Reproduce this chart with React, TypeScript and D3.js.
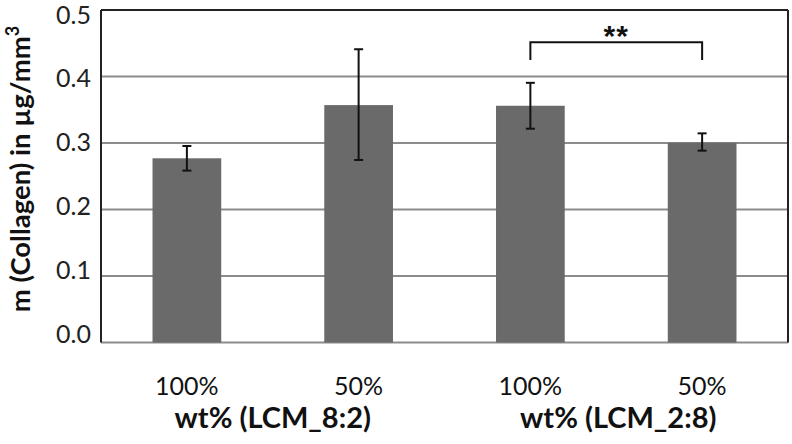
import React from "react";
import * as d3 from "d3";

const categories = ["A", "B", "C", "D"];
const barLabels = ["100%", "50%", "100%", "50%"];
const values = [0.277, 0.357, 0.356, 0.3005];
const errLow = [0.2585, 0.2745, 0.3215, 0.2885];
const errHigh = [0.2955, 0.441, 0.3905, 0.3145];
const groupLabels = ["wt% (LCM_8:2)", "wt% (LCM_2:8)"];
const groupMembers = [[0, 1], [2, 3]];
const yTicks = [0, 0.1, 0.2, 0.3, 0.4, 0.5];
const sigPair = [2, 3];
const sigLevel = 0.4515;
const sigEnd = 0.425;
const sigLabel = "**";

const W = 792, H = 444;
const left = 101, right = 788, top = 10, bottom = 342.5;
const FONT = "Lato, 'Open Sans', sans-serif";

export default function App() {
  const x = d3.scaleBand<string>().domain(categories).range([left, right]).paddingInner(0.6).paddingOuter(0.3);
  const y = d3.scaleLinear().domain([0, 0.5]).range([bottom, top]);
  const yLab = d3.scaleLinear().domain([0, 0.5]).range([334, 14.5]);
  const bw = x.bandwidth();
  const cx = (i: number) => (x(categories[i]) as number) + bw / 2;
  const capW = 9;
  const bx1 = cx(sigPair[0]), bx2 = cx(sigPair[1]);
  return (
    <svg width={W} height={H} style={{ position: "absolute", left: 0, top: 0, background: "#fff" }}>
      <rect x={0} y={0} width={W} height={H} fill="#fff" />
      {yTicks.slice(1, -1).map((t) => (
        <line key={t} x1={left} x2={right} y1={y(t)} y2={y(t)} stroke="#8c8c8c" strokeWidth={2} />
      ))}
      <line x1={left} x2={right} y1={bottom} y2={bottom} stroke="#8c8c8c" strokeWidth={2} />
      <line x1={left} x2={right} y1={top} y2={top} stroke="#222" strokeWidth={2} />
      <line x1={left} x2={left} y1={top} y2={bottom} stroke="#222" strokeWidth={2} />
      <line x1={right} x2={right} y1={top} y2={bottom} stroke="#222" strokeWidth={2} />
      {values.map((v, i) => (
        <rect key={i} x={x(categories[i])} y={y(v)} width={bw} height={y(0) - y(v)} fill="#6a6a6a" />
      ))}
      {values.map((v, i) => (
        <g key={"e" + i} stroke="#111" strokeWidth={2}>
          <line x1={cx(i)} x2={cx(i)} y1={y(errLow[i])} y2={y(errHigh[i])} />
          <line x1={cx(i) - capW / 2} x2={cx(i) + capW / 2} y1={y(errLow[i])} y2={y(errLow[i])} />
          <line x1={cx(i) - capW / 2} x2={cx(i) + capW / 2} y1={y(errHigh[i])} y2={y(errHigh[i])} />
        </g>
      ))}
      {yTicks.map((t) => (
        <text key={"t" + t} x={91} y={yLab(t)} dy="0.36em" textAnchor="end" fontFamily={FONT} fontSize={25} fill="#222">
          {d3.format(".1f")(t)}
        </text>
      ))}
      {barLabels.map((l, i) => (
        <text key={"l" + i} x={cx(i)} y={395} textAnchor="middle" fontFamily={FONT} fontSize={25} fill="#111">
          {l}
        </text>
      ))}
      {groupLabels.map((g, k) => {
        const [a, b] = groupMembers[k];
        return (
          <text key={"g" + k} x={(cx(a) + cx(b)) / 2 + 2 * k} y={428} textAnchor="middle" fontFamily={FONT} fontWeight="bold" fontSize={29} fill="#111">
            {g}
          </text>
        );
      })}
      <path d={`M${bx1},${y(sigEnd)}V${y(sigLevel)}H${bx2}V${y(sigEnd)}`} fill="none" stroke="#111" strokeWidth={2} />
      <text x={(bx1 + bx2) / 2} y={46} textAnchor="middle" fontFamily="'Liberation Sans', sans-serif" fontWeight="bold" fontSize={30} letterSpacing={1} fill="#111">
        {sigLabel}
      </text>
      <text transform={`translate(30,169) rotate(-90)`} textAnchor="middle" fontFamily={FONT} fontWeight="bold" fontSize={27.5} fill="#111">
        m (Collagen) in µg/mm<tspan dy="-11" fontSize={18}>3</tspan>
      </text>
    </svg>
  );
}
